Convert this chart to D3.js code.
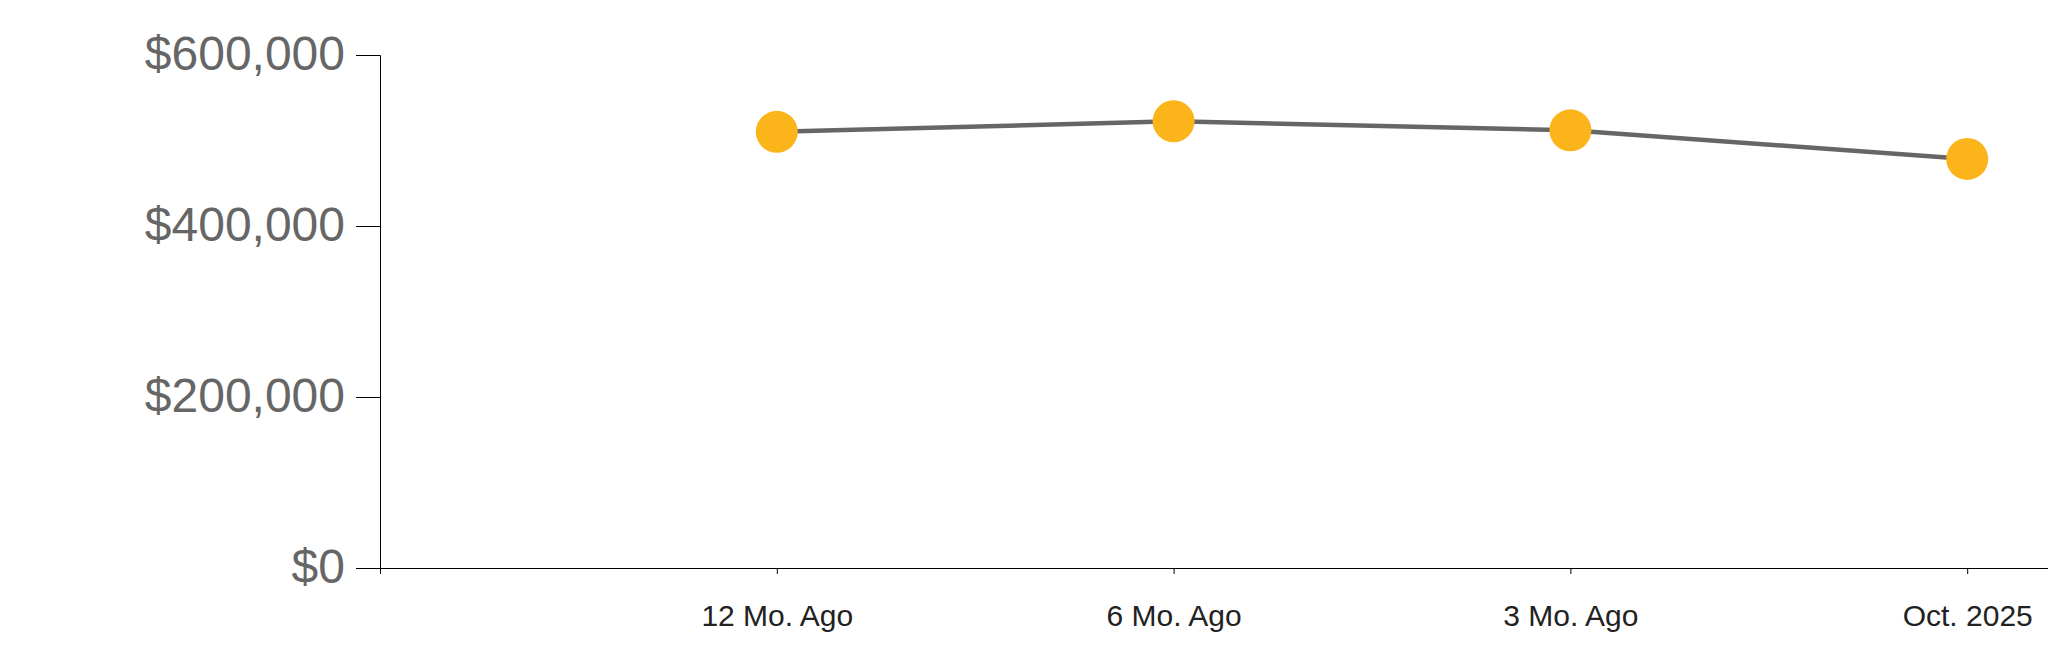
<!DOCTYPE html>
<html>
<head>
<meta charset="utf-8">
<script src="https://cdn.jsdelivr.net/npm/d3@7"></script>
<style>
  body { margin: 0; background: #fff; overflow: hidden; }
  svg { display: block; }
</style>
</head>
<body>
<div id="chart"></div>
<script>
// Chart data
const periods = ["12 Mo. Ago", "6 Mo. Ago", "3 Mo. Ago", "Oct. 2025"];
const prices = [510200, 522500, 511900, 478400];
const yTicks = [0, 200000, 400000, 600000];

const W = 2048, H = 663;
const margin = { top: 55, left: 380, bottom: 95 };
const plotH = H - margin.top - margin.bottom;

const svg = d3.select("#chart")
    .append("svg")
    .attr("width", W)
    .attr("height", H);

const chart = svg.append("g")
    .attr("transform", `translate(${margin.left},${margin.top})`);

// x: point scale, axis runs past the right edge
const x = d3.scalePoint()
    .domain(periods)
    .range([0, 1984])
    .padding(1);

const y = d3.scaleLinear()
    .domain([0, 600000])
    .range([plotH, 0]);

// y axis
const yAxis = chart.append("g")
    .call(d3.axisLeft(y)
        .tickValues(yTicks)
        .tickSize(24)
        .tickPadding(11)
        .tickFormat(d => "$" + d3.format(",")(d)));
yAxis.selectAll("text")
    .style("font-family", "Liberation Sans, Arial, sans-serif")
    .style("font-size", "48px")
    .style("fill", "#666")
    .attr("dy", "0.3em");
yAxis.selectAll("path, line").attr("stroke", "#000");

// x axis
const xAxis = chart.append("g")
    .attr("transform", `translate(0,${plotH})`)
    .call(d3.axisBottom(x).tickSize(6).tickSizeOuter(6).tickPadding(31));
xAxis.selectAll("text")
    .style("font-family", "Liberation Sans, Arial, sans-serif")
    .style("font-size", "30px")
    .style("fill", "#222");
xAxis.selectAll("path, line").attr("stroke", "#000");

// line
const line = d3.line()
    .x((d, i) => x(periods[i]))
    .y(d => y(d));

chart.append("path")
    .datum(prices)
    .attr("d", line)
    .attr("fill", "none")
    .attr("stroke", "#666")
    .attr("stroke-width", 4.5);

// points
chart.selectAll("circle.pt")
    .data(prices)
    .enter()
    .append("circle")
    .attr("class", "pt")
    .attr("cx", (d, i) => x(periods[i]))
    .attr("cy", d => y(d))
    .attr("r", 21)
    .attr("fill", "#fbb41a");
</script>
</body>
</html>
